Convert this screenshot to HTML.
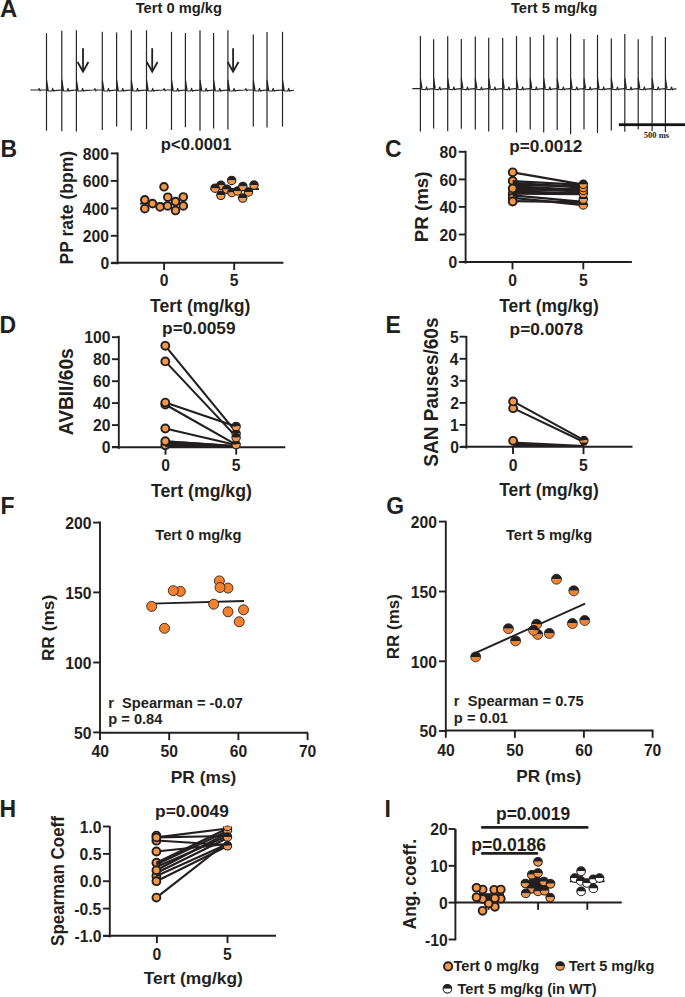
<!DOCTYPE html>
<html><head><meta charset="utf-8"><style>
html,body{margin:0;padding:0;background:#fff;}
body{width:685px;height:997px;overflow:hidden;}
svg{display:block;font-family:"Liberation Sans", sans-serif;}
</style></head><body>
<svg width="685" height="997" viewBox="0 0 685 997">
<rect width="685" height="997" fill="#fff"/>
<path d="M30.3,90.0 L38.2,90.0 L39.1,88.6 L39.9,90.9 L40.8,90.0 L46.5,90.0 L48.5,90.9 L51.8,91.0 L52.7,88.4 L53.5,91.2 L54.5,90.6 L57.0,90.3 L61.8,90.0 L63.8,90.9 L67.1,91.0 L68.0,88.4 L68.8,91.2 L69.8,90.6 L72.3,90.3 L76.4,90.0 L78.4,90.9 L81.7,91.0 L82.60000000000001,88.4 L83.4,91.2 L84.4,90.6 L86.9,90.3 L94.0,90.0 L94.89999999999999,88.6 L95.7,90.9 L96.6,90.0 L102.3,90.0 L104.3,90.9 L107.6,91.0 L108.5,88.4 L109.3,91.2 L110.3,90.6 L112.8,90.3 L116.6,90.0 L118.6,90.9 L121.89999999999999,91.0 L122.8,88.4 L123.6,91.2 L124.6,90.6 L127.1,90.3 L131.3,90.0 L133.3,90.9 L136.60000000000002,91.0 L137.5,88.4 L138.3,91.2 L139.3,90.6 L141.8,90.3 L146.5,90.0 L148.5,90.9 L151.8,91.0 L152.7,88.4 L153.5,91.2 L154.5,90.6 L157.0,90.3 L163.2,90.0 L164.1,88.6 L164.9,90.9 L165.8,90.0 L171.5,90.0 L173.5,90.9 L176.8,91.0 L177.7,88.4 L178.5,91.2 L179.5,90.6 L182.0,90.3 L185.4,90.0 L187.4,90.9 L190.70000000000002,91.0 L191.6,88.4 L192.4,91.2 L193.4,90.6 L195.9,90.3 L200,90.0 L202.0,90.9 L205.3,91.0 L206.2,88.4 L207.0,91.2 L208.0,90.6 L210.5,90.3 L213.6,90.0 L215.6,90.9 L218.9,91.0 L219.79999999999998,88.4 L220.6,91.2 L221.6,90.6 L224.1,90.3 L227.9,90.0 L229.9,90.9 L233.20000000000002,91.0 L234.1,88.4 L234.9,91.2 L235.9,90.6 L238.4,90.3 L245.0,90.0 L245.9,88.6 L246.70000000000002,90.9 L247.60000000000002,90.0 L253.3,90.0 L255.3,90.9 L258.6,91.0 L259.5,88.4 L260.3,91.2 L261.3,90.6 L263.8,90.3 L267,90.0 L269.0,90.9 L272.3,91.0 L273.2,88.4 L274.0,91.2 L275.0,90.6 L277.5,90.3 L282.5,90.0 L284.5,90.9 L287.8,91.0 L288.7,88.4 L289.5,91.2 L290.5,90.6 L293.0,90.3 L293.9,90.0" fill="none" stroke="#262626" stroke-width="1.2" stroke-linejoin="round"/>
<line x1="46.5" y1="33.2" x2="46.5" y2="130.7" stroke="#262626" stroke-width="1.2"/>
<path d="M46.1,79.7 L47.1,79.7 L48.7,90.0 L46.1,90.0 Z" fill="#262626"/>
<line x1="61.8" y1="30.8" x2="61.8" y2="131.3" stroke="#262626" stroke-width="1.2"/>
<path d="M61.4,79.7 L62.4,79.7 L64.0,90.0 L61.4,90.0 Z" fill="#262626"/>
<line x1="76.4" y1="30.3" x2="76.4" y2="131.5" stroke="#262626" stroke-width="1.2"/>
<path d="M76.0,79.7 L77.0,79.7 L78.60000000000001,90.0 L76.0,90.0 Z" fill="#262626"/>
<line x1="102.3" y1="31.7" x2="102.3" y2="130" stroke="#262626" stroke-width="1.2"/>
<path d="M101.89999999999999,79.7 L102.89999999999999,79.7 L104.5,90.0 L101.89999999999999,90.0 Z" fill="#262626"/>
<line x1="116.6" y1="32.6" x2="116.6" y2="126.6" stroke="#262626" stroke-width="1.2"/>
<path d="M116.19999999999999,79.7 L117.19999999999999,79.7 L118.8,90.0 L116.19999999999999,90.0 Z" fill="#262626"/>
<line x1="131.3" y1="30.3" x2="131.3" y2="130.7" stroke="#262626" stroke-width="1.2"/>
<path d="M130.9,79.7 L131.9,79.7 L133.5,90.0 L130.9,90.0 Z" fill="#262626"/>
<line x1="146.5" y1="30.3" x2="146.5" y2="129" stroke="#262626" stroke-width="1.2"/>
<path d="M146.1,79.7 L147.1,79.7 L148.7,90.0 L146.1,90.0 Z" fill="#262626"/>
<line x1="171.5" y1="31.8" x2="171.5" y2="130" stroke="#262626" stroke-width="1.2"/>
<path d="M171.1,79.7 L172.1,79.7 L173.7,90.0 L171.1,90.0 Z" fill="#262626"/>
<line x1="185.4" y1="32.9" x2="185.4" y2="127.2" stroke="#262626" stroke-width="1.2"/>
<path d="M185.0,79.7 L186.0,79.7 L187.6,90.0 L185.0,90.0 Z" fill="#262626"/>
<line x1="200" y1="30.3" x2="200" y2="130.7" stroke="#262626" stroke-width="1.2"/>
<path d="M199.6,79.7 L200.6,79.7 L202.2,90.0 L199.6,90.0 Z" fill="#262626"/>
<line x1="213.6" y1="32.9" x2="213.6" y2="128.4" stroke="#262626" stroke-width="1.2"/>
<path d="M213.2,79.7 L214.2,79.7 L215.79999999999998,90.0 L213.2,90.0 Z" fill="#262626"/>
<line x1="227.9" y1="30.3" x2="227.9" y2="129.6" stroke="#262626" stroke-width="1.2"/>
<path d="M227.5,79.7 L228.5,79.7 L230.1,90.0 L227.5,90.0 Z" fill="#262626"/>
<line x1="253.3" y1="34.6" x2="253.3" y2="126.6" stroke="#262626" stroke-width="1.2"/>
<path d="M252.9,79.7 L253.9,79.7 L255.5,90.0 L252.9,90.0 Z" fill="#262626"/>
<line x1="267" y1="32" x2="267" y2="127.6" stroke="#262626" stroke-width="1.2"/>
<path d="M266.6,79.7 L267.6,79.7 L269.2,90.0 L266.6,90.0 Z" fill="#262626"/>
<line x1="282.5" y1="31.8" x2="282.5" y2="126.6" stroke="#262626" stroke-width="1.2"/>
<path d="M282.1,79.7 L283.1,79.7 L284.7,90.0 L282.1,90.0 Z" fill="#262626"/>
<line x1="83" y1="48.2" x2="83" y2="70.8" stroke="#231f20" stroke-width="1.8"/>
<polyline points="77.6,62.0 83,71.6 88.4,62.0" fill="none" stroke="#231f20" stroke-width="1.8"/>
<line x1="152.2" y1="48.2" x2="152.2" y2="70.8" stroke="#231f20" stroke-width="1.8"/>
<polyline points="146.79999999999998,62.0 152.2,71.6 157.6,62.0" fill="none" stroke="#231f20" stroke-width="1.8"/>
<line x1="233.1" y1="48.2" x2="233.1" y2="70.8" stroke="#231f20" stroke-width="1.8"/>
<polyline points="227.7,62.0 233.1,71.6 238.5,62.0" fill="none" stroke="#231f20" stroke-width="1.8"/>
<path d="M412.3,88.6 L420.4,88.6 L422.4,89.5 L425.7,89.6 L426.59999999999997,87.0 L427.4,89.8 L428.4,89.19999999999999 L430.9,88.89999999999999 L433.6,88.6 L435.6,89.5 L438.90000000000003,89.6 L439.8,87.0 L440.6,89.8 L441.6,89.19999999999999 L444.1,88.89999999999999 L447.7,88.6 L449.7,89.5 L453.0,89.6 L453.9,87.0 L454.7,89.8 L455.7,89.19999999999999 L458.2,88.89999999999999 L461.3,88.6 L463.3,89.5 L466.6,89.6 L467.5,87.0 L468.3,89.8 L469.3,89.19999999999999 L471.8,88.89999999999999 L475.3,88.6 L477.3,89.5 L480.6,89.6 L481.5,87.0 L482.3,89.8 L483.3,89.19999999999999 L485.8,88.89999999999999 L488.7,88.6 L490.7,89.5 L494.0,89.6 L494.9,87.0 L495.7,89.8 L496.7,89.19999999999999 L499.2,88.89999999999999 L502.7,88.6 L504.7,89.5 L508.0,89.6 L508.9,87.0 L509.7,89.8 L510.7,89.19999999999999 L513.2,88.89999999999999 L516.5,88.6 L518.5,89.5 L521.8,89.6 L522.7,87.0 L523.5,89.8 L524.5,89.19999999999999 L527.0,88.89999999999999 L530.2,88.6 L532.2,89.5 L535.5,89.6 L536.4000000000001,87.0 L537.2,89.8 L538.2,89.19999999999999 L540.7,88.89999999999999 L543.7,88.6 L545.7,89.5 L549.0,89.6 L549.9000000000001,87.0 L550.7,89.8 L551.7,89.19999999999999 L554.2,88.89999999999999 L557.2,88.6 L559.2,89.5 L562.5,89.6 L563.4000000000001,87.0 L564.2,89.8 L565.2,89.19999999999999 L567.7,88.89999999999999 L570.6,88.6 L572.6,89.5 L575.9,89.6 L576.8000000000001,87.0 L577.6,89.8 L578.6,89.19999999999999 L581.1,88.89999999999999 L584,88.6 L586.0,89.5 L589.3,89.6 L590.2,87.0 L591.0,89.8 L592.0,89.19999999999999 L594.5,88.89999999999999 L597.5,88.6 L599.5,89.5 L602.8,89.6 L603.7,87.0 L604.5,89.8 L605.5,89.19999999999999 L608.0,88.89999999999999 L611.3,88.6 L613.3,89.5 L616.5999999999999,89.6 L617.5,87.0 L618.3,89.8 L619.3,89.19999999999999 L621.8,88.89999999999999 L624.8,88.6 L626.8,89.5 L630.0999999999999,89.6 L631.0,87.0 L631.8,89.8 L632.8,89.19999999999999 L635.3,88.89999999999999 L638.2,88.6 L640.2,89.5 L643.5,89.6 L644.4000000000001,87.0 L645.2,89.8 L646.2,89.19999999999999 L648.7,88.89999999999999 L652.1,88.6 L654.1,89.5 L657.4,89.6 L658.3000000000001,87.0 L659.1,89.8 L660.1,89.19999999999999 L662.6,88.89999999999999 L665.4,88.6 L667.4,89.5 L670.6999999999999,89.6 L671.6,87.0 L672.4,89.8 L673.4,89.19999999999999 L675.9,88.89999999999999 L675.7,88.6" fill="none" stroke="#262626" stroke-width="1.2" stroke-linejoin="round"/>
<line x1="420.4" y1="36.1" x2="420.4" y2="131.5" stroke="#262626" stroke-width="1.2"/>
<path d="M420.0,78.3 L421.0,78.3 L422.59999999999997,88.6 L420.0,88.6 Z" fill="#262626"/>
<line x1="433.6" y1="39.3" x2="433.6" y2="128.4" stroke="#262626" stroke-width="1.2"/>
<path d="M433.20000000000005,78.3 L434.20000000000005,78.3 L435.8,88.6 L433.20000000000005,88.6 Z" fill="#262626"/>
<line x1="447.7" y1="36.3" x2="447.7" y2="131.3" stroke="#262626" stroke-width="1.2"/>
<path d="M447.3,78.3 L448.3,78.3 L449.9,88.6 L447.3,88.6 Z" fill="#262626"/>
<line x1="461.3" y1="39" x2="461.3" y2="128.7" stroke="#262626" stroke-width="1.2"/>
<path d="M460.90000000000003,78.3 L461.90000000000003,78.3 L463.5,88.6 L460.90000000000003,88.6 Z" fill="#262626"/>
<line x1="475.3" y1="36.4" x2="475.3" y2="129.6" stroke="#262626" stroke-width="1.2"/>
<path d="M474.90000000000003,78.3 L475.90000000000003,78.3 L477.5,88.6 L474.90000000000003,88.6 Z" fill="#262626"/>
<line x1="488.7" y1="37.8" x2="488.7" y2="131.5" stroke="#262626" stroke-width="1.2"/>
<path d="M488.3,78.3 L489.3,78.3 L490.9,88.6 L488.3,88.6 Z" fill="#262626"/>
<line x1="502.7" y1="38" x2="502.7" y2="129.6" stroke="#262626" stroke-width="1.2"/>
<path d="M502.3,78.3 L503.3,78.3 L504.9,88.6 L502.3,88.6 Z" fill="#262626"/>
<line x1="516.5" y1="36.1" x2="516.5" y2="132.5" stroke="#262626" stroke-width="1.2"/>
<path d="M516.1,78.3 L517.1,78.3 L518.7,88.6 L516.1,88.6 Z" fill="#262626"/>
<line x1="530.2" y1="37" x2="530.2" y2="129.6" stroke="#262626" stroke-width="1.2"/>
<path d="M529.8000000000001,78.3 L530.8000000000001,78.3 L532.4000000000001,88.6 L529.8000000000001,88.6 Z" fill="#262626"/>
<line x1="543.7" y1="35" x2="543.7" y2="132.5" stroke="#262626" stroke-width="1.2"/>
<path d="M543.3000000000001,78.3 L544.3000000000001,78.3 L545.9000000000001,88.6 L543.3000000000001,88.6 Z" fill="#262626"/>
<line x1="557.2" y1="37.3" x2="557.2" y2="130.1" stroke="#262626" stroke-width="1.2"/>
<path d="M556.8000000000001,78.3 L557.8000000000001,78.3 L559.4000000000001,88.6 L556.8000000000001,88.6 Z" fill="#262626"/>
<line x1="570.6" y1="33.8" x2="570.6" y2="134.2" stroke="#262626" stroke-width="1.2"/>
<path d="M570.2,78.3 L571.2,78.3 L572.8000000000001,88.6 L570.2,88.6 Z" fill="#262626"/>
<line x1="584" y1="39" x2="584" y2="129.6" stroke="#262626" stroke-width="1.2"/>
<path d="M583.6,78.3 L584.6,78.3 L586.2,88.6 L583.6,88.6 Z" fill="#262626"/>
<line x1="597.5" y1="34.9" x2="597.5" y2="133" stroke="#262626" stroke-width="1.2"/>
<path d="M597.1,78.3 L598.1,78.3 L599.7,88.6 L597.1,88.6 Z" fill="#262626"/>
<line x1="611.3" y1="38.4" x2="611.3" y2="130.5" stroke="#262626" stroke-width="1.2"/>
<path d="M610.9,78.3 L611.9,78.3 L613.5,88.6 L610.9,88.6 Z" fill="#262626"/>
<line x1="624.8" y1="33.9" x2="624.8" y2="131.7" stroke="#262626" stroke-width="1.2"/>
<path d="M624.4,78.3 L625.4,78.3 L627.0,88.6 L624.4,88.6 Z" fill="#262626"/>
<line x1="638.2" y1="39.3" x2="638.2" y2="129.2" stroke="#262626" stroke-width="1.2"/>
<path d="M637.8000000000001,78.3 L638.8000000000001,78.3 L640.4000000000001,88.6 L637.8000000000001,88.6 Z" fill="#262626"/>
<line x1="652.1" y1="35.9" x2="652.1" y2="131.1" stroke="#262626" stroke-width="1.2"/>
<path d="M651.7,78.3 L652.7,78.3 L654.3000000000001,88.6 L651.7,88.6 Z" fill="#262626"/>
<line x1="665.4" y1="37" x2="665.4" y2="132.0" stroke="#262626" stroke-width="1.2"/>
<path d="M665.0,78.3 L666.0,78.3 L667.6,88.6 L665.0,88.6 Z" fill="#262626"/>
<rect x="618.9" y="123.3" width="66.1" height="2.8" fill="#141414"/>
<line x1="117.6" y1="152.4" x2="117.6" y2="264.3" stroke="#231f20" stroke-width="1.9" stroke-linecap="butt"/>
<line x1="110.8" y1="153.4" x2="117.6" y2="153.4" stroke="#231f20" stroke-width="1.9" stroke-linecap="butt"/>
<line x1="110.8" y1="180.9" x2="117.6" y2="180.9" stroke="#231f20" stroke-width="1.9" stroke-linecap="butt"/>
<line x1="110.8" y1="208.4" x2="117.6" y2="208.4" stroke="#231f20" stroke-width="1.9" stroke-linecap="butt"/>
<line x1="110.8" y1="235.8" x2="117.6" y2="235.8" stroke="#231f20" stroke-width="1.9" stroke-linecap="butt"/>
<line x1="110.8" y1="263.2" x2="117.6" y2="263.2" stroke="#231f20" stroke-width="1.9" stroke-linecap="butt"/>
<line x1="111.4" y1="262.7" x2="283.4" y2="262.7" stroke="#231f20" stroke-width="1.9" stroke-linecap="butt"/>
<line x1="164.1" y1="262.7" x2="164.1" y2="270.0" stroke="#231f20" stroke-width="1.9" stroke-linecap="butt"/>
<line x1="234.2" y1="262.7" x2="234.2" y2="270.0" stroke="#231f20" stroke-width="1.9" stroke-linecap="butt"/>
<line x1="140" y1="203.6" x2="187" y2="203.6" stroke="#231f20" stroke-width="1.8" stroke-linecap="butt"/>
<circle cx="164.0" cy="186.8" r="3.85" fill="#f49848" stroke="#231f20" stroke-width="1.9"/>
<circle cx="144.8" cy="199.8" r="3.85" fill="#f49848" stroke="#231f20" stroke-width="1.9"/>
<circle cx="144.8" cy="208.7" r="3.85" fill="#f49848" stroke="#231f20" stroke-width="1.9"/>
<circle cx="152.5" cy="203.6" r="3.85" fill="#f49848" stroke="#231f20" stroke-width="1.9"/>
<circle cx="160.1" cy="206.9" r="3.85" fill="#f49848" stroke="#231f20" stroke-width="1.9"/>
<circle cx="167.8" cy="197.2" r="3.85" fill="#f49848" stroke="#231f20" stroke-width="1.9"/>
<circle cx="167.6" cy="205.9" r="3.85" fill="#f49848" stroke="#231f20" stroke-width="1.9"/>
<circle cx="175.5" cy="201.6" r="3.85" fill="#f49848" stroke="#231f20" stroke-width="1.9"/>
<circle cx="175.5" cy="210.5" r="3.85" fill="#f49848" stroke="#231f20" stroke-width="1.9"/>
<circle cx="183.3" cy="197.0" r="3.85" fill="#f49848" stroke="#231f20" stroke-width="1.9"/>
<circle cx="183.3" cy="205.9" r="3.85" fill="#f49848" stroke="#231f20" stroke-width="1.9"/>
<line x1="210.2" y1="189.2" x2="259" y2="189.2" stroke="#231f20" stroke-width="1.8" stroke-linecap="butt"/>
<path d="M227.5,180.4 A4.2,4.2 0 0 1 235.89999999999998,180.4 Z" fill="#231f20"/>
<path d="M227.5,180.4 A4.2,4.2 0 0 0 235.89999999999998,180.4 Z" fill="#f49848"/>
<circle cx="231.7" cy="180.4" r="4.2" fill="none" stroke="#231f20" stroke-width="1.1"/>
<path d="M216.70000000000002,185.3 A4.2,4.2 0 0 1 225.1,185.3 Z" fill="#231f20"/>
<path d="M216.70000000000002,185.3 A4.2,4.2 0 0 0 225.1,185.3 Z" fill="#f49848"/>
<circle cx="220.9" cy="185.3" r="4.2" fill="none" stroke="#231f20" stroke-width="1.1"/>
<path d="M210.9,188.2 A4.2,4.2 0 0 1 219.29999999999998,188.2 Z" fill="#231f20"/>
<path d="M210.9,188.2 A4.2,4.2 0 0 0 219.29999999999998,188.2 Z" fill="#f49848"/>
<circle cx="215.1" cy="188.2" r="4.2" fill="none" stroke="#231f20" stroke-width="1.1"/>
<path d="M222.60000000000002,189.2 A4.2,4.2 0 0 1 231.0,189.2 Z" fill="#231f20"/>
<path d="M222.60000000000002,189.2 A4.2,4.2 0 0 0 231.0,189.2 Z" fill="#f49848"/>
<circle cx="226.8" cy="189.2" r="4.2" fill="none" stroke="#231f20" stroke-width="1.1"/>
<path d="M216.70000000000002,195.3 A4.2,4.2 0 0 1 225.1,195.3 Z" fill="#231f20"/>
<path d="M216.70000000000002,195.3 A4.2,4.2 0 0 0 225.1,195.3 Z" fill="#f49848"/>
<circle cx="220.9" cy="195.3" r="4.2" fill="none" stroke="#231f20" stroke-width="1.1"/>
<path d="M227.70000000000002,192.5 A4.2,4.2 0 0 1 236.1,192.5 Z" fill="#231f20"/>
<path d="M227.70000000000002,192.5 A4.2,4.2 0 0 0 236.1,192.5 Z" fill="#f49848"/>
<circle cx="231.9" cy="192.5" r="4.2" fill="none" stroke="#231f20" stroke-width="1.1"/>
<path d="M233.4,191.0 A4.2,4.2 0 0 1 241.79999999999998,191.0 Z" fill="#231f20"/>
<path d="M233.4,191.0 A4.2,4.2 0 0 0 241.79999999999998,191.0 Z" fill="#f49848"/>
<circle cx="237.6" cy="191.0" r="4.2" fill="none" stroke="#231f20" stroke-width="1.1"/>
<path d="M238.70000000000002,186.4 A4.2,4.2 0 0 1 247.1,186.4 Z" fill="#231f20"/>
<path d="M238.70000000000002,186.4 A4.2,4.2 0 0 0 247.1,186.4 Z" fill="#f49848"/>
<circle cx="242.9" cy="186.4" r="4.2" fill="none" stroke="#231f20" stroke-width="1.1"/>
<path d="M249.8,185.1 A4.2,4.2 0 0 1 258.2,185.1 Z" fill="#231f20"/>
<path d="M249.8,185.1 A4.2,4.2 0 0 0 258.2,185.1 Z" fill="#f49848"/>
<circle cx="254.0" cy="185.1" r="4.2" fill="none" stroke="#231f20" stroke-width="1.1"/>
<path d="M244.3,192.0 A4.2,4.2 0 0 1 252.7,192.0 Z" fill="#231f20"/>
<path d="M244.3,192.0 A4.2,4.2 0 0 0 252.7,192.0 Z" fill="#f49848"/>
<circle cx="248.5" cy="192.0" r="4.2" fill="none" stroke="#231f20" stroke-width="1.1"/>
<path d="M238.5,198.1 A4.2,4.2 0 0 1 246.89999999999998,198.1 Z" fill="#231f20"/>
<path d="M238.5,198.1 A4.2,4.2 0 0 0 246.89999999999998,198.1 Z" fill="#f49848"/>
<circle cx="242.7" cy="198.1" r="4.2" fill="none" stroke="#231f20" stroke-width="1.1"/>
<line x1="465.6" y1="150.8" x2="465.6" y2="263.6" stroke="#231f20" stroke-width="1.9" stroke-linecap="butt"/>
<line x1="458.8" y1="151.8" x2="465.6" y2="151.8" stroke="#231f20" stroke-width="1.9" stroke-linecap="butt"/>
<line x1="458.8" y1="179.4" x2="465.6" y2="179.4" stroke="#231f20" stroke-width="1.9" stroke-linecap="butt"/>
<line x1="458.8" y1="206.9" x2="465.6" y2="206.9" stroke="#231f20" stroke-width="1.9" stroke-linecap="butt"/>
<line x1="458.8" y1="234.5" x2="465.6" y2="234.5" stroke="#231f20" stroke-width="1.9" stroke-linecap="butt"/>
<line x1="458.8" y1="262.0" x2="465.6" y2="262.0" stroke="#231f20" stroke-width="1.9" stroke-linecap="butt"/>
<line x1="461.8" y1="262.0" x2="631.9" y2="262.0" stroke="#231f20" stroke-width="1.9" stroke-linecap="butt"/>
<line x1="512.5" y1="262.0" x2="512.5" y2="269.3" stroke="#231f20" stroke-width="1.9" stroke-linecap="butt"/>
<line x1="583.3" y1="262.0" x2="583.3" y2="269.3" stroke="#231f20" stroke-width="1.9" stroke-linecap="butt"/>
<circle cx="512.7" cy="181.0" r="3.95" fill="#f49848" stroke="#231f20" stroke-width="1.9"/>
<circle cx="512.7" cy="193.8" r="3.95" fill="#f49848" stroke="#231f20" stroke-width="1.9"/>
<circle cx="512.7" cy="197.8" r="3.95" fill="#f49848" stroke="#231f20" stroke-width="1.9"/>
<line x1="512.7" y1="172.3" x2="583.3" y2="184.6" stroke="#231f20" stroke-width="2.3" stroke-linecap="butt"/>
<line x1="512.7" y1="181.2" x2="583.3" y2="184.8" stroke="#231f20" stroke-width="2.3" stroke-linecap="butt"/>
<line x1="512.7" y1="183.0" x2="583.3" y2="187.5" stroke="#231f20" stroke-width="2.3" stroke-linecap="butt"/>
<line x1="512.7" y1="185.0" x2="583.3" y2="186.2" stroke="#231f20" stroke-width="2.3" stroke-linecap="butt"/>
<line x1="512.7" y1="186.5" x2="583.3" y2="190.0" stroke="#231f20" stroke-width="2.3" stroke-linecap="butt"/>
<line x1="512.7" y1="188.4" x2="583.3" y2="191.5" stroke="#231f20" stroke-width="2.3" stroke-linecap="butt"/>
<line x1="512.7" y1="190.0" x2="583.3" y2="189.2" stroke="#231f20" stroke-width="2.3" stroke-linecap="butt"/>
<line x1="512.7" y1="191.5" x2="583.3" y2="193.5" stroke="#231f20" stroke-width="2.3" stroke-linecap="butt"/>
<line x1="512.7" y1="193.5" x2="583.3" y2="194.2" stroke="#231f20" stroke-width="2.3" stroke-linecap="butt"/>
<line x1="512.7" y1="195.3" x2="583.3" y2="201.8" stroke="#231f20" stroke-width="2.3" stroke-linecap="butt"/>
<line x1="512.7" y1="201.2" x2="583.3" y2="202.2" stroke="#231f20" stroke-width="2.3" stroke-linecap="butt"/>
<line x1="512.7" y1="197.8" x2="583.3" y2="205.0" stroke="#231f20" stroke-width="2.3" stroke-linecap="butt"/>
<circle cx="512.7" cy="172.3" r="3.95" fill="#f49848" stroke="#231f20" stroke-width="1.9"/>
<circle cx="512.7" cy="188.4" r="3.95" fill="#f49848" stroke="#231f20" stroke-width="1.9"/>
<circle cx="512.7" cy="201.5" r="3.95" fill="#f49848" stroke="#231f20" stroke-width="1.9"/>
<path d="M579.0999999999999,205.0 A4.2,4.2 0 0 1 587.5,205.0 Z" fill="#231f20"/>
<path d="M579.0999999999999,205.0 A4.2,4.2 0 0 0 587.5,205.0 Z" fill="#f49848"/>
<circle cx="583.3" cy="205.0" r="4.2" fill="none" stroke="#231f20" stroke-width="1.1"/>
<path d="M579.0999999999999,199.2 A4.2,4.2 0 0 1 587.5,199.2 Z" fill="#231f20"/>
<path d="M579.0999999999999,199.2 A4.2,4.2 0 0 0 587.5,199.2 Z" fill="#f49848"/>
<circle cx="583.3" cy="199.2" r="4.2" fill="none" stroke="#231f20" stroke-width="1.1"/>
<path d="M579.0999999999999,193.4 A4.2,4.2 0 0 1 587.5,193.4 Z" fill="#231f20"/>
<path d="M579.0999999999999,193.4 A4.2,4.2 0 0 0 587.5,193.4 Z" fill="#f49848"/>
<circle cx="583.3" cy="193.4" r="4.2" fill="none" stroke="#231f20" stroke-width="1.1"/>
<path d="M579.0999999999999,190.3 A4.2,4.2 0 0 1 587.5,190.3 Z" fill="#231f20"/>
<path d="M579.0999999999999,190.3 A4.2,4.2 0 0 0 587.5,190.3 Z" fill="#f49848"/>
<circle cx="583.3" cy="190.3" r="4.2" fill="none" stroke="#231f20" stroke-width="1.1"/>
<path d="M579.0999999999999,187.6 A4.2,4.2 0 0 1 587.5,187.6 Z" fill="#231f20"/>
<path d="M579.0999999999999,187.6 A4.2,4.2 0 0 0 587.5,187.6 Z" fill="#f49848"/>
<circle cx="583.3" cy="187.6" r="4.2" fill="none" stroke="#231f20" stroke-width="1.1"/>
<path d="M579.0999999999999,184.3 A4.2,4.2 0 0 1 587.5,184.3 Z" fill="#231f20"/>
<path d="M579.0999999999999,184.3 A4.2,4.2 0 0 0 587.5,184.3 Z" fill="#f49848"/>
<circle cx="583.3" cy="184.3" r="4.2" fill="none" stroke="#231f20" stroke-width="1.1"/>
<line x1="118.8" y1="335.8" x2="118.8" y2="448.90000000000003" stroke="#231f20" stroke-width="1.9" stroke-linecap="butt"/>
<line x1="112.0" y1="337.2" x2="118.8" y2="337.2" stroke="#231f20" stroke-width="1.9" stroke-linecap="butt"/>
<line x1="112.0" y1="359.2" x2="118.8" y2="359.2" stroke="#231f20" stroke-width="1.9" stroke-linecap="butt"/>
<line x1="112.0" y1="381.2" x2="118.8" y2="381.2" stroke="#231f20" stroke-width="1.9" stroke-linecap="butt"/>
<line x1="112.0" y1="403.1" x2="118.8" y2="403.1" stroke="#231f20" stroke-width="1.9" stroke-linecap="butt"/>
<line x1="112.0" y1="425.1" x2="118.8" y2="425.1" stroke="#231f20" stroke-width="1.9" stroke-linecap="butt"/>
<line x1="112.0" y1="447.0" x2="118.8" y2="447.0" stroke="#231f20" stroke-width="1.9" stroke-linecap="butt"/>
<line x1="112.0" y1="447.3" x2="285.3" y2="447.3" stroke="#231f20" stroke-width="1.9" stroke-linecap="butt"/>
<line x1="165.5" y1="447.3" x2="165.5" y2="454.6" stroke="#231f20" stroke-width="1.9" stroke-linecap="butt"/>
<line x1="236.2" y1="447.3" x2="236.2" y2="454.6" stroke="#231f20" stroke-width="1.9" stroke-linecap="butt"/>
<circle cx="165.3" cy="445.3" r="3.95" fill="#f49848" stroke="#231f20" stroke-width="1.9"/>
<circle cx="165.3" cy="404.5" r="3.95" fill="#f49848" stroke="#231f20" stroke-width="1.9"/>
<path d="M165.3,440.2 L236.1,445.2 L236.1,447.3 L165.3,447.3 Z" fill="#231f20"/>
<line x1="165.3" y1="345.8" x2="236.1" y2="432.2" stroke="#231f20" stroke-width="2.1" stroke-linecap="butt"/>
<line x1="165.3" y1="361.4" x2="236.1" y2="436.6" stroke="#231f20" stroke-width="2.1" stroke-linecap="butt"/>
<line x1="165.3" y1="402.6" x2="236.1" y2="426.4" stroke="#231f20" stroke-width="2.1" stroke-linecap="butt"/>
<line x1="165.3" y1="404.5" x2="236.1" y2="444.6" stroke="#231f20" stroke-width="2.1" stroke-linecap="butt"/>
<line x1="165.3" y1="428.5" x2="236.1" y2="445.0" stroke="#231f20" stroke-width="2.1" stroke-linecap="butt"/>
<line x1="165.3" y1="441.2" x2="236.1" y2="446" stroke="#231f20" stroke-width="2.1" stroke-linecap="butt"/>
<circle cx="165.3" cy="441.2" r="3.95" fill="#f49848" stroke="#231f20" stroke-width="1.9"/>
<circle cx="165.3" cy="428.5" r="3.95" fill="#f49848" stroke="#231f20" stroke-width="1.9"/>
<circle cx="165.3" cy="402.6" r="3.95" fill="#f49848" stroke="#231f20" stroke-width="1.9"/>
<circle cx="165.3" cy="361.4" r="3.95" fill="#f49848" stroke="#231f20" stroke-width="1.9"/>
<circle cx="165.3" cy="345.8" r="3.95" fill="#f49848" stroke="#231f20" stroke-width="1.9"/>
<path d="M231.9,444.6 A4.2,4.2 0 0 1 240.29999999999998,444.6 Z" fill="#231f20"/>
<path d="M231.9,444.6 A4.2,4.2 0 0 0 240.29999999999998,444.6 Z" fill="#f49848"/>
<circle cx="236.1" cy="444.6" r="4.2" fill="none" stroke="#231f20" stroke-width="1.1"/>
<path d="M231.9,433.5 A4.2,4.2 0 0 1 240.29999999999998,433.5 Z" fill="#231f20"/>
<path d="M231.9,433.5 A4.2,4.2 0 0 0 240.29999999999998,433.5 Z" fill="#f49848"/>
<circle cx="236.1" cy="433.5" r="4.2" fill="none" stroke="#231f20" stroke-width="1.1"/>
<path d="M231.9,437.5 A4.2,4.2 0 0 1 240.29999999999998,437.5 Z" fill="#231f20"/>
<path d="M231.9,437.5 A4.2,4.2 0 0 0 240.29999999999998,437.5 Z" fill="#f49848"/>
<circle cx="236.1" cy="437.5" r="4.2" fill="none" stroke="#231f20" stroke-width="1.1"/>
<path d="M231.9,426.4 A4.2,4.2 0 0 1 240.29999999999998,426.4 Z" fill="#231f20"/>
<path d="M231.9,426.4 A4.2,4.2 0 0 0 240.29999999999998,426.4 Z" fill="#f49848"/>
<circle cx="236.1" cy="426.4" r="4.2" fill="none" stroke="#231f20" stroke-width="1.1"/>
<line x1="466.4" y1="336.0" x2="466.4" y2="448.6" stroke="#231f20" stroke-width="1.9" stroke-linecap="butt"/>
<line x1="459.59999999999997" y1="336.7" x2="466.4" y2="336.7" stroke="#231f20" stroke-width="1.9" stroke-linecap="butt"/>
<line x1="459.59999999999997" y1="358.8" x2="466.4" y2="358.8" stroke="#231f20" stroke-width="1.9" stroke-linecap="butt"/>
<line x1="459.59999999999997" y1="380.8" x2="466.4" y2="380.8" stroke="#231f20" stroke-width="1.9" stroke-linecap="butt"/>
<line x1="459.59999999999997" y1="402.9" x2="466.4" y2="402.9" stroke="#231f20" stroke-width="1.9" stroke-linecap="butt"/>
<line x1="459.59999999999997" y1="424.9" x2="466.4" y2="424.9" stroke="#231f20" stroke-width="1.9" stroke-linecap="butt"/>
<line x1="459.59999999999997" y1="447.0" x2="466.4" y2="447.0" stroke="#231f20" stroke-width="1.9" stroke-linecap="butt"/>
<line x1="461.0" y1="446.8" x2="632.5" y2="446.8" stroke="#231f20" stroke-width="1.9" stroke-linecap="butt"/>
<line x1="513.0" y1="446.8" x2="513.0" y2="454.1" stroke="#231f20" stroke-width="1.9" stroke-linecap="butt"/>
<line x1="583.5" y1="446.8" x2="583.5" y2="454.1" stroke="#231f20" stroke-width="1.9" stroke-linecap="butt"/>
<path d="M513.1,441.5 L583.9,445.0 L583.9,447 L513.1,447 Z" fill="#231f20"/>
<line x1="513.1" y1="401.4" x2="583.9" y2="440.2" stroke="#231f20" stroke-width="2.0" stroke-linecap="butt"/>
<line x1="513.1" y1="408.2" x2="583.9" y2="442.0" stroke="#231f20" stroke-width="2.0" stroke-linecap="butt"/>
<circle cx="513.1" cy="408.2" r="3.95" fill="#f49848" stroke="#231f20" stroke-width="1.9"/>
<circle cx="513.1" cy="401.4" r="3.95" fill="#f49848" stroke="#231f20" stroke-width="1.9"/>
<circle cx="513.1" cy="440.8" r="3.95" fill="#f49848" stroke="#231f20" stroke-width="1.9"/>
<path d="M579.6999999999999,440.6 A4.2,4.2 0 0 1 588.1,440.6 Z" fill="#231f20"/>
<path d="M579.6999999999999,440.6 A4.2,4.2 0 0 0 588.1,440.6 Z" fill="#f49848"/>
<circle cx="583.9" cy="440.6" r="4.2" fill="none" stroke="#231f20" stroke-width="1.1"/>
<path d="M580.5,442.6 L587.3,442.6 L586.5,445.5 L581.3,445.5 Z" fill="#231f20"/>
<line x1="100.0" y1="521.5" x2="100.0" y2="734.4" stroke="#231f20" stroke-width="1.9" stroke-linecap="butt"/>
<line x1="93.2" y1="522.6" x2="100.0" y2="522.6" stroke="#231f20" stroke-width="1.9" stroke-linecap="butt"/>
<line x1="93.2" y1="592.4" x2="100.0" y2="592.4" stroke="#231f20" stroke-width="1.9" stroke-linecap="butt"/>
<line x1="93.2" y1="662.5" x2="100.0" y2="662.5" stroke="#231f20" stroke-width="1.9" stroke-linecap="butt"/>
<line x1="93.2" y1="732.4" x2="100.0" y2="732.4" stroke="#231f20" stroke-width="1.9" stroke-linecap="butt"/>
<line x1="100.0" y1="732.8" x2="308.0" y2="732.8" stroke="#231f20" stroke-width="1.9" stroke-linecap="butt"/>
<line x1="100.0" y1="732.8" x2="100.0" y2="740.0999999999999" stroke="#231f20" stroke-width="1.9" stroke-linecap="butt"/>
<line x1="169.2" y1="732.8" x2="169.2" y2="740.0999999999999" stroke="#231f20" stroke-width="1.9" stroke-linecap="butt"/>
<line x1="238.4" y1="732.8" x2="238.4" y2="740.0999999999999" stroke="#231f20" stroke-width="1.9" stroke-linecap="butt"/>
<line x1="307.6" y1="732.8" x2="307.6" y2="740.0999999999999" stroke="#231f20" stroke-width="1.9" stroke-linecap="butt"/>
<line x1="151.7" y1="603.6" x2="244.0" y2="601.0" stroke="#231f20" stroke-width="1.8" stroke-linecap="butt"/>
<circle cx="151.7" cy="606.4" r="5.0" fill="#f08230" stroke="#2e2118" stroke-width="0.9"/>
<circle cx="164.5" cy="628.3" r="5.0" fill="#f08230" stroke="#2e2118" stroke-width="0.9"/>
<circle cx="180.3" cy="591.4" r="5.0" fill="#f08230" stroke="#2e2118" stroke-width="0.9"/>
<circle cx="173.3" cy="590.7" r="5.0" fill="#f08230" stroke="#2e2118" stroke-width="0.9"/>
<circle cx="213.7" cy="604.2" r="5.0" fill="#f08230" stroke="#2e2118" stroke-width="0.9"/>
<circle cx="219.4" cy="580.9" r="5.0" fill="#f08230" stroke="#2e2118" stroke-width="0.9"/>
<circle cx="228.0" cy="588.1" r="5.0" fill="#f08230" stroke="#2e2118" stroke-width="0.9"/>
<circle cx="220.0" cy="587.5" r="5.0" fill="#f08230" stroke="#2e2118" stroke-width="0.9"/>
<circle cx="228.0" cy="611.8" r="5.0" fill="#f08230" stroke="#2e2118" stroke-width="0.9"/>
<circle cx="243.5" cy="609.8" r="5.0" fill="#f08230" stroke="#2e2118" stroke-width="0.9"/>
<circle cx="239.2" cy="621.8" r="5.0" fill="#f08230" stroke="#2e2118" stroke-width="0.9"/>
<line x1="445.8" y1="520.8" x2="445.8" y2="732.1" stroke="#231f20" stroke-width="1.9" stroke-linecap="butt"/>
<line x1="439.0" y1="521.6" x2="445.8" y2="521.6" stroke="#231f20" stroke-width="1.9" stroke-linecap="butt"/>
<line x1="439.0" y1="591.5" x2="445.8" y2="591.5" stroke="#231f20" stroke-width="1.9" stroke-linecap="butt"/>
<line x1="439.0" y1="661.3" x2="445.8" y2="661.3" stroke="#231f20" stroke-width="1.9" stroke-linecap="butt"/>
<line x1="439.0" y1="731.0" x2="445.8" y2="731.0" stroke="#231f20" stroke-width="1.9" stroke-linecap="butt"/>
<line x1="445.8" y1="730.5" x2="653.4" y2="730.5" stroke="#231f20" stroke-width="1.9" stroke-linecap="butt"/>
<line x1="445.8" y1="730.5" x2="445.8" y2="737.8" stroke="#231f20" stroke-width="1.9" stroke-linecap="butt"/>
<line x1="514.9" y1="730.5" x2="514.9" y2="737.8" stroke="#231f20" stroke-width="1.9" stroke-linecap="butt"/>
<line x1="583.9" y1="730.5" x2="583.9" y2="737.8" stroke="#231f20" stroke-width="1.9" stroke-linecap="butt"/>
<line x1="652.6" y1="730.5" x2="652.6" y2="737.8" stroke="#231f20" stroke-width="1.9" stroke-linecap="butt"/>
<line x1="475.7" y1="652.8" x2="585.1" y2="603.7" stroke="#231f20" stroke-width="1.9" stroke-linecap="butt"/>
<path d="M470.7,656.9 A5.0,5.0 0 0 1 480.7,656.9 Z" fill="#231f20"/>
<path d="M470.7,656.9 A5.0,5.0 0 0 0 480.7,656.9 Z" fill="#f08230"/>
<circle cx="475.7" cy="656.9" r="5.0" fill="none" stroke="#231f20" stroke-width="0.8"/>
<path d="M503.4,628.7 A5.0,5.0 0 0 1 513.4,628.7 Z" fill="#231f20"/>
<path d="M503.4,628.7 A5.0,5.0 0 0 0 513.4,628.7 Z" fill="#f08230"/>
<circle cx="508.4" cy="628.7" r="5.0" fill="none" stroke="#231f20" stroke-width="0.8"/>
<path d="M510.6,640.9 A5.0,5.0 0 0 1 520.6,640.9 Z" fill="#231f20"/>
<path d="M510.6,640.9 A5.0,5.0 0 0 0 520.6,640.9 Z" fill="#f08230"/>
<circle cx="515.6" cy="640.9" r="5.0" fill="none" stroke="#231f20" stroke-width="0.8"/>
<path d="M532.7,634.4 A5.0,5.0 0 0 1 542.7,634.4 Z" fill="#231f20"/>
<path d="M532.7,634.4 A5.0,5.0 0 0 0 542.7,634.4 Z" fill="#f08230"/>
<circle cx="537.7" cy="634.4" r="5.0" fill="none" stroke="#231f20" stroke-width="0.8"/>
<path d="M531.6,624.2 A5.0,5.0 0 0 1 541.6,624.2 Z" fill="#231f20"/>
<path d="M531.6,624.2 A5.0,5.0 0 0 0 541.6,624.2 Z" fill="#f08230"/>
<circle cx="536.6" cy="624.2" r="5.0" fill="none" stroke="#231f20" stroke-width="0.8"/>
<path d="M528.6,630.3 A5.0,5.0 0 0 1 538.6,630.3 Z" fill="#231f20"/>
<path d="M528.6,630.3 A5.0,5.0 0 0 0 538.6,630.3 Z" fill="#f08230"/>
<circle cx="533.6" cy="630.3" r="5.0" fill="none" stroke="#231f20" stroke-width="0.8"/>
<path d="M544.3,633.4 A5.0,5.0 0 0 1 554.3,633.4 Z" fill="#231f20"/>
<path d="M544.3,633.4 A5.0,5.0 0 0 0 554.3,633.4 Z" fill="#f08230"/>
<circle cx="549.3" cy="633.4" r="5.0" fill="none" stroke="#231f20" stroke-width="0.8"/>
<path d="M551.5,579.2 A5.0,5.0 0 0 1 561.5,579.2 Z" fill="#231f20"/>
<path d="M551.5,579.2 A5.0,5.0 0 0 0 561.5,579.2 Z" fill="#f08230"/>
<circle cx="556.5" cy="579.2" r="5.0" fill="none" stroke="#231f20" stroke-width="0.8"/>
<path d="M568.8,590.8 A5.0,5.0 0 0 1 578.8,590.8 Z" fill="#231f20"/>
<path d="M568.8,590.8 A5.0,5.0 0 0 0 578.8,590.8 Z" fill="#f08230"/>
<circle cx="573.8" cy="590.8" r="5.0" fill="none" stroke="#231f20" stroke-width="0.8"/>
<path d="M567.4,623.5 A5.0,5.0 0 0 1 577.4,623.5 Z" fill="#231f20"/>
<path d="M567.4,623.5 A5.0,5.0 0 0 0 577.4,623.5 Z" fill="#f08230"/>
<circle cx="572.4" cy="623.5" r="5.0" fill="none" stroke="#231f20" stroke-width="0.8"/>
<path d="M579.7,620.5 A5.0,5.0 0 0 1 589.7,620.5 Z" fill="#231f20"/>
<path d="M579.7,620.5 A5.0,5.0 0 0 0 589.7,620.5 Z" fill="#f08230"/>
<circle cx="584.7" cy="620.5" r="5.0" fill="none" stroke="#231f20" stroke-width="0.8"/>
<line x1="109.8" y1="826.0" x2="109.8" y2="937.4" stroke="#231f20" stroke-width="1.9" stroke-linecap="butt"/>
<line x1="103.0" y1="826.5" x2="109.8" y2="826.5" stroke="#231f20" stroke-width="1.9" stroke-linecap="butt"/>
<line x1="103.0" y1="853.9" x2="109.8" y2="853.9" stroke="#231f20" stroke-width="1.9" stroke-linecap="butt"/>
<line x1="103.0" y1="881.2" x2="109.8" y2="881.2" stroke="#231f20" stroke-width="1.9" stroke-linecap="butt"/>
<line x1="103.0" y1="908.6" x2="109.8" y2="908.6" stroke="#231f20" stroke-width="1.9" stroke-linecap="butt"/>
<line x1="103.0" y1="936.0" x2="109.8" y2="936.0" stroke="#231f20" stroke-width="1.9" stroke-linecap="butt"/>
<line x1="103.2" y1="935.8" x2="276.0" y2="935.8" stroke="#231f20" stroke-width="1.9" stroke-linecap="butt"/>
<line x1="156.9" y1="935.8" x2="156.9" y2="943.0999999999999" stroke="#231f20" stroke-width="1.9" stroke-linecap="butt"/>
<line x1="227.5" y1="935.8" x2="227.5" y2="943.0999999999999" stroke="#231f20" stroke-width="1.9" stroke-linecap="butt"/>
<circle cx="156.4" cy="835.6" r="3.95" fill="#f49848" stroke="#231f20" stroke-width="1.9"/>
<circle cx="156.4" cy="840.7" r="3.95" fill="#f49848" stroke="#231f20" stroke-width="1.9"/>
<circle cx="156.4" cy="862.7" r="3.95" fill="#f49848" stroke="#231f20" stroke-width="1.9"/>
<circle cx="156.4" cy="876.0" r="3.95" fill="#f49848" stroke="#231f20" stroke-width="1.9"/>
<line x1="156.4" y1="837.4" x2="227.5" y2="828.5" stroke="#231f20" stroke-width="2.2" stroke-linecap="butt"/>
<line x1="156.4" y1="837.4" x2="227.5" y2="836.0" stroke="#231f20" stroke-width="2.2" stroke-linecap="butt"/>
<line x1="156.4" y1="840.5" x2="227.5" y2="845.0" stroke="#231f20" stroke-width="2.2" stroke-linecap="butt"/>
<line x1="156.4" y1="851.5" x2="227.5" y2="844.0" stroke="#231f20" stroke-width="2.2" stroke-linecap="butt"/>
<line x1="156.4" y1="862.7" x2="227.5" y2="828.5" stroke="#231f20" stroke-width="2.2" stroke-linecap="butt"/>
<line x1="156.4" y1="864.5" x2="227.5" y2="831.0" stroke="#231f20" stroke-width="2.2" stroke-linecap="butt"/>
<line x1="156.4" y1="867.0" x2="227.5" y2="836.0" stroke="#231f20" stroke-width="2.2" stroke-linecap="butt"/>
<line x1="156.4" y1="870.3" x2="227.5" y2="833.0" stroke="#231f20" stroke-width="2.2" stroke-linecap="butt"/>
<line x1="156.4" y1="873.0" x2="227.5" y2="838.0" stroke="#231f20" stroke-width="2.2" stroke-linecap="butt"/>
<line x1="156.4" y1="876.0" x2="227.5" y2="844.0" stroke="#231f20" stroke-width="2.2" stroke-linecap="butt"/>
<line x1="156.4" y1="881.2" x2="227.5" y2="846.0" stroke="#231f20" stroke-width="2.2" stroke-linecap="butt"/>
<line x1="156.4" y1="897.6" x2="227.5" y2="842.0" stroke="#231f20" stroke-width="2.2" stroke-linecap="butt"/>
<circle cx="156.4" cy="837.4" r="3.95" fill="#f49848" stroke="#231f20" stroke-width="1.9"/>
<circle cx="156.4" cy="851.5" r="3.95" fill="#f49848" stroke="#231f20" stroke-width="1.9"/>
<circle cx="156.4" cy="870.3" r="3.95" fill="#f49848" stroke="#231f20" stroke-width="1.9"/>
<circle cx="156.4" cy="881.2" r="3.95" fill="#f49848" stroke="#231f20" stroke-width="1.9"/>
<circle cx="156.4" cy="897.6" r="3.95" fill="#f49848" stroke="#231f20" stroke-width="1.9"/>
<path d="M223.3,845.8 A4.2,4.2 0 0 1 231.7,845.8 Z" fill="#231f20"/>
<path d="M223.3,845.8 A4.2,4.2 0 0 0 231.7,845.8 Z" fill="#f49848"/>
<circle cx="227.5" cy="845.8" r="4.2" fill="none" stroke="#231f20" stroke-width="1.1"/>
<path d="M223.3,830.2 A4.2,4.2 0 0 1 231.7,830.2 Z" fill="#231f20"/>
<path d="M223.3,830.2 A4.2,4.2 0 0 0 231.7,830.2 Z" fill="#f49848"/>
<circle cx="227.5" cy="830.2" r="4.2" fill="none" stroke="#231f20" stroke-width="1.1"/>
<path d="M223.3,836.9 A4.2,4.2 0 0 1 231.7,836.9 Z" fill="#231f20"/>
<path d="M223.3,836.9 A4.2,4.2 0 0 0 231.7,836.9 Z" fill="#f49848"/>
<circle cx="227.5" cy="836.9" r="4.2" fill="none" stroke="#231f20" stroke-width="1.1"/>
<path d="M223.3,826.4 A4.2,4.2 0 0 0 231.7,826.4 Z" fill="#f49848"/>
<path d="M223.3,826.4 A4.2,4.2 0 0 0 231.7,826.4" fill="none" stroke="#231f20" stroke-width="1.1"/>
<line x1="455.4" y1="829.0" x2="455.4" y2="904.1" stroke="#231f20" stroke-width="1.9" stroke-linecap="butt"/>
<line x1="448.59999999999997" y1="829.0" x2="455.4" y2="829.0" stroke="#231f20" stroke-width="1.9" stroke-linecap="butt"/>
<line x1="448.59999999999997" y1="865.8" x2="455.4" y2="865.8" stroke="#231f20" stroke-width="1.9" stroke-linecap="butt"/>
<line x1="448.59999999999997" y1="902.6" x2="455.4" y2="902.6" stroke="#231f20" stroke-width="1.9" stroke-linecap="butt"/>
<line x1="448.59999999999997" y1="939.5" x2="455.4" y2="939.5" stroke="#231f20" stroke-width="1.9" stroke-linecap="butt"/>
<line x1="455.4" y1="829.0" x2="455.4" y2="940.4" stroke="#231f20" stroke-width="1.9" stroke-linecap="butt"/>
<line x1="455.4" y1="902.5" x2="621.8" y2="902.5" stroke="#231f20" stroke-width="1.9" stroke-linecap="butt"/>
<line x1="488.5" y1="902.5" x2="488.5" y2="909.8" stroke="#231f20" stroke-width="1.9" stroke-linecap="butt"/>
<line x1="538.1" y1="902.5" x2="538.1" y2="909.8" stroke="#231f20" stroke-width="1.9" stroke-linecap="butt"/>
<line x1="587.3" y1="902.5" x2="587.3" y2="909.8" stroke="#231f20" stroke-width="1.9" stroke-linecap="butt"/>
<line x1="482.3" y1="827.4" x2="587.2" y2="827.4" stroke="#231f20" stroke-width="2.8" stroke-linecap="round"/>
<line x1="482.3" y1="853.4" x2="536.9" y2="853.4" stroke="#231f20" stroke-width="2.8" stroke-linecap="round"/>
<line x1="474" y1="894.3" x2="504" y2="894.3" stroke="#231f20" stroke-width="2" stroke-linecap="butt"/>
<rect x="485.4" y="893.7" width="6.1" height="6.7" fill="#231f20"/>
<circle cx="482.7" cy="889.5" r="3.9" fill="#f49848" stroke="#231f20" stroke-width="1.9"/>
<circle cx="494.2" cy="889.8" r="3.9" fill="#f49848" stroke="#231f20" stroke-width="1.9"/>
<circle cx="500.8" cy="889.5" r="3.9" fill="#f49848" stroke="#231f20" stroke-width="1.9"/>
<circle cx="476.5" cy="887.8" r="3.9" fill="#f49848" stroke="#231f20" stroke-width="1.9"/>
<circle cx="482.7" cy="899" r="3.9" fill="#f49848" stroke="#231f20" stroke-width="1.9"/>
<circle cx="500.8" cy="898.7" r="3.9" fill="#f49848" stroke="#231f20" stroke-width="1.9"/>
<circle cx="476.5" cy="897.3" r="3.9" fill="#f49848" stroke="#231f20" stroke-width="1.9"/>
<circle cx="494.9" cy="898.3" r="3.9" fill="#f49848" stroke="#231f20" stroke-width="1.9"/>
<circle cx="494.9" cy="906.8" r="3.9" fill="#f49848" stroke="#231f20" stroke-width="1.9"/>
<circle cx="488.7" cy="903.6" r="3.9" fill="#f49848" stroke="#231f20" stroke-width="1.9"/>
<circle cx="482.6" cy="910.8" r="3.9" fill="#f49848" stroke="#231f20" stroke-width="1.9"/>
<line x1="521" y1="882" x2="555" y2="882" stroke="#231f20" stroke-width="1.6" stroke-linecap="butt"/>
<path d="M528.2,883.0 A4.3,4.3 0 0 1 536.8,883.0 Z" fill="#231f20"/>
<path d="M528.2,883.0 A4.3,4.3 0 0 0 536.8,883.0 Z" fill="#231f20"/>
<circle cx="532.5" cy="883.0" r="4.3" fill="none" stroke="#231f20" stroke-width="1.1"/>
<path d="M534.2,885.0 A4.3,4.3 0 0 1 542.8,885.0 Z" fill="#231f20"/>
<path d="M534.2,885.0 A4.3,4.3 0 0 0 542.8,885.0 Z" fill="#231f20"/>
<circle cx="538.5" cy="885.0" r="4.3" fill="none" stroke="#231f20" stroke-width="1.1"/>
<path d="M539.7,886.0 A4.3,4.3 0 0 1 548.3,886.0 Z" fill="#231f20"/>
<path d="M539.7,886.0 A4.3,4.3 0 0 0 548.3,886.0 Z" fill="#231f20"/>
<circle cx="544.0" cy="886.0" r="4.3" fill="none" stroke="#231f20" stroke-width="1.1"/>
<path d="M531.7,880.0 A4.3,4.3 0 0 1 540.3,880.0 Z" fill="#231f20"/>
<path d="M531.7,880.0 A4.3,4.3 0 0 0 540.3,880.0 Z" fill="#231f20"/>
<circle cx="536.0" cy="880.0" r="4.3" fill="none" stroke="#231f20" stroke-width="1.1"/>
<path d="M533.7,861.8 A4.3,4.3 0 0 1 542.3,861.8 Z" fill="#231f20"/>
<path d="M533.7,861.8 A4.3,4.3 0 0 0 542.3,861.8 Z" fill="#f49848"/>
<circle cx="538" cy="861.8" r="4.3" fill="none" stroke="#231f20" stroke-width="1.1"/>
<path d="M527.5,874.8 A4.3,4.3 0 0 1 536.0999999999999,874.8 Z" fill="#231f20"/>
<path d="M527.5,874.8 A4.3,4.3 0 0 0 536.0999999999999,874.8 Z" fill="#f49848"/>
<circle cx="531.8" cy="874.8" r="4.3" fill="none" stroke="#231f20" stroke-width="1.1"/>
<path d="M533.7,873 A4.3,4.3 0 0 1 542.3,873 Z" fill="#231f20"/>
<path d="M533.7,873 A4.3,4.3 0 0 0 542.3,873 Z" fill="#f49848"/>
<circle cx="538" cy="873" r="4.3" fill="none" stroke="#231f20" stroke-width="1.1"/>
<path d="M521.2,883.5 A4.3,4.3 0 0 1 529.8,883.5 Z" fill="#231f20"/>
<path d="M521.2,883.5 A4.3,4.3 0 0 0 529.8,883.5 Z" fill="#f49848"/>
<circle cx="525.5" cy="883.5" r="4.3" fill="none" stroke="#231f20" stroke-width="1.1"/>
<path d="M539.6,881.5 A4.3,4.3 0 0 1 548.1999999999999,881.5 Z" fill="#231f20"/>
<path d="M539.6,881.5 A4.3,4.3 0 0 0 548.1999999999999,881.5 Z" fill="#f49848"/>
<circle cx="543.9" cy="881.5" r="4.3" fill="none" stroke="#231f20" stroke-width="1.1"/>
<path d="M546.2,883.8 A4.3,4.3 0 0 1 554.8,883.8 Z" fill="#231f20"/>
<path d="M546.2,883.8 A4.3,4.3 0 0 0 554.8,883.8 Z" fill="#f49848"/>
<circle cx="550.5" cy="883.8" r="4.3" fill="none" stroke="#231f20" stroke-width="1.1"/>
<path d="M527.1,888.8 A4.3,4.3 0 0 1 535.6999999999999,888.8 Z" fill="#231f20"/>
<path d="M527.1,888.8 A4.3,4.3 0 0 0 535.6999999999999,888.8 Z" fill="#f49848"/>
<circle cx="531.4" cy="888.8" r="4.3" fill="none" stroke="#231f20" stroke-width="1.1"/>
<path d="M533.7,891.4 A4.3,4.3 0 0 1 542.3,891.4 Z" fill="#231f20"/>
<path d="M533.7,891.4 A4.3,4.3 0 0 0 542.3,891.4 Z" fill="#f49848"/>
<circle cx="538" cy="891.4" r="4.3" fill="none" stroke="#231f20" stroke-width="1.1"/>
<path d="M540.3000000000001,890.7 A4.3,4.3 0 0 1 548.9,890.7 Z" fill="#231f20"/>
<path d="M540.3000000000001,890.7 A4.3,4.3 0 0 0 548.9,890.7 Z" fill="#f49848"/>
<circle cx="544.6" cy="890.7" r="4.3" fill="none" stroke="#231f20" stroke-width="1.1"/>
<path d="M521.5,893.4 A4.3,4.3 0 0 1 530.0999999999999,893.4 Z" fill="#231f20"/>
<path d="M521.5,893.4 A4.3,4.3 0 0 0 530.0999999999999,893.4 Z" fill="#f49848"/>
<circle cx="525.8" cy="893.4" r="4.3" fill="none" stroke="#231f20" stroke-width="1.1"/>
<path d="M545.9000000000001,897.6 A4.3,4.3 0 0 1 554.5,897.6 Z" fill="#231f20"/>
<path d="M545.9000000000001,897.6 A4.3,4.3 0 0 0 554.5,897.6 Z" fill="#f49848"/>
<circle cx="550.2" cy="897.6" r="4.3" fill="none" stroke="#231f20" stroke-width="1.1"/>
<line x1="569.9" y1="881.4" x2="604.7" y2="881.4" stroke="#231f20" stroke-width="1.6" stroke-linecap="butt"/>
<path d="M576.8000000000001,871.2 A4.3,4.3 0 0 1 585.4,871.2 Z" fill="#231f20"/>
<path d="M576.8000000000001,871.2 A4.3,4.3 0 0 0 585.4,871.2 Z" fill="#ffffff"/>
<circle cx="581.1" cy="871.2" r="4.3" fill="none" stroke="#231f20" stroke-width="1.1"/>
<path d="M570.4000000000001,878.1 A4.3,4.3 0 0 1 579.0,878.1 Z" fill="#231f20"/>
<path d="M570.4000000000001,878.1 A4.3,4.3 0 0 0 579.0,878.1 Z" fill="#ffffff"/>
<circle cx="574.7" cy="878.1" r="4.3" fill="none" stroke="#231f20" stroke-width="1.1"/>
<path d="M576.5,880.9 A4.3,4.3 0 0 1 585.0999999999999,880.9 Z" fill="#231f20"/>
<path d="M576.5,880.9 A4.3,4.3 0 0 0 585.0999999999999,880.9 Z" fill="#ffffff"/>
<circle cx="580.8" cy="880.9" r="4.3" fill="none" stroke="#231f20" stroke-width="1.1"/>
<path d="M582.7,883 A4.3,4.3 0 0 1 591.3,883 Z" fill="#231f20"/>
<path d="M582.7,883 A4.3,4.3 0 0 0 591.3,883 Z" fill="#ffffff"/>
<circle cx="587" cy="883" r="4.3" fill="none" stroke="#231f20" stroke-width="1.1"/>
<path d="M589.0,879.4 A4.3,4.3 0 0 1 597.5999999999999,879.4 Z" fill="#231f20"/>
<path d="M589.0,879.4 A4.3,4.3 0 0 0 597.5999999999999,879.4 Z" fill="#ffffff"/>
<circle cx="593.3" cy="879.4" r="4.3" fill="none" stroke="#231f20" stroke-width="1.1"/>
<path d="M595.2,878.1 A4.3,4.3 0 0 1 603.8,878.1 Z" fill="#231f20"/>
<path d="M595.2,878.1 A4.3,4.3 0 0 0 603.8,878.1 Z" fill="#ffffff"/>
<circle cx="599.5" cy="878.1" r="4.3" fill="none" stroke="#231f20" stroke-width="1.1"/>
<path d="M576.8000000000001,891.4 A4.3,4.3 0 0 1 585.4,891.4 Z" fill="#231f20"/>
<path d="M576.8000000000001,891.4 A4.3,4.3 0 0 0 585.4,891.4 Z" fill="#ffffff"/>
<circle cx="581.1" cy="891.4" r="4.3" fill="none" stroke="#231f20" stroke-width="1.1"/>
<path d="M589.1,888.4 A4.3,4.3 0 0 1 597.6999999999999,888.4 Z" fill="#231f20"/>
<path d="M589.1,888.4 A4.3,4.3 0 0 0 597.6999999999999,888.4 Z" fill="#ffffff"/>
<circle cx="593.4" cy="888.4" r="4.3" fill="none" stroke="#231f20" stroke-width="1.1"/>
<circle cx="448.1" cy="966.4" r="4.1" fill="#f49848" stroke="#231f20" stroke-width="1.9"/>
<path d="M555.8000000000001,966.0 A4.3,4.3 0 0 1 564.4,966.0 Z" fill="#231f20"/>
<path d="M555.8000000000001,966.0 A4.3,4.3 0 0 0 564.4,966.0 Z" fill="#f49848"/>
<circle cx="560.1" cy="966.0" r="4.3" fill="none" stroke="#231f20" stroke-width="1.1"/>
<path d="M443.09999999999997,988.8 A4.3,4.3 0 0 1 451.7,988.8 Z" fill="#231f20"/>
<path d="M443.09999999999997,988.8 A4.3,4.3 0 0 0 451.7,988.8 Z" fill="#ffffff"/>
<circle cx="447.4" cy="988.8" r="4.3" fill="none" stroke="#231f20" stroke-width="1.1"/>
<text transform="translate(-0.12 16.60) scale(1.04 1.04)" font-family="&quot;Liberation Sans&quot;, sans-serif" font-size="23.0" font-weight="bold" fill="#231f20" xml:space="preserve">A</text>
<text transform="translate(135.65 13.10)" font-family="&quot;Liberation Sans&quot;, sans-serif" font-size="14.7" font-weight="bold" fill="#231f20" xml:space="preserve">Tert 0 mg/kg</text>
<text transform="translate(510.95 12.90)" font-family="&quot;Liberation Sans&quot;, sans-serif" font-size="14.7" font-weight="bold" fill="#231f20" xml:space="preserve">Tert 5 mg/kg</text>
<text transform="translate(643.86 138.20)" font-family="&quot;Liberation Serif&quot;, serif" font-size="8.5" font-weight="bold" fill="#231f20" xml:space="preserve">500 ms</text>
<text transform="translate(0.49 156.90) scale(1.0 1.04)" font-family="&quot;Liberation Sans&quot;, sans-serif" font-size="23.0" font-weight="bold" fill="#231f20" xml:space="preserve">B</text>
<text transform="translate(160.84 150.40)" font-family="&quot;Liberation Sans&quot;, sans-serif" font-size="16.6" font-weight="bold" fill="#231f20" xml:space="preserve">p&lt;0.0001</text>
<text transform="translate(72.50 264.43) rotate(-90)" font-family="&quot;Liberation Sans&quot;, sans-serif" font-size="17.5" font-weight="bold" fill="#231f20" xml:space="preserve">PP rate (bpm)</text>
<text transform="translate(82.81 159.60)" font-family="&quot;Liberation Sans&quot;, sans-serif" font-size="15.7" font-weight="bold" fill="#231f20" xml:space="preserve">800</text>
<text transform="translate(82.81 187.10)" font-family="&quot;Liberation Sans&quot;, sans-serif" font-size="15.7" font-weight="bold" fill="#231f20" xml:space="preserve">600</text>
<text transform="translate(82.81 214.60)" font-family="&quot;Liberation Sans&quot;, sans-serif" font-size="15.7" font-weight="bold" fill="#231f20" xml:space="preserve">400</text>
<text transform="translate(82.81 242.00)" font-family="&quot;Liberation Sans&quot;, sans-serif" font-size="15.7" font-weight="bold" fill="#231f20" xml:space="preserve">200</text>
<text transform="translate(100.39 269.40)" font-family="&quot;Liberation Sans&quot;, sans-serif" font-size="15.7" font-weight="bold" fill="#231f20" xml:space="preserve">0</text>
<text transform="translate(159.78 286.40)" font-family="&quot;Liberation Sans&quot;, sans-serif" font-size="15.7" font-weight="bold" fill="#231f20" xml:space="preserve">0</text>
<text transform="translate(229.80 286.40)" font-family="&quot;Liberation Sans&quot;, sans-serif" font-size="15.7" font-weight="bold" fill="#231f20" xml:space="preserve">5</text>
<text transform="translate(150.12 311.60)" font-family="&quot;Liberation Sans&quot;, sans-serif" font-size="17.6" font-weight="bold" fill="#231f20" xml:space="preserve">Tert (mg/kg)</text>
<text transform="translate(384.88 156.50) scale(1.0 1.04)" font-family="&quot;Liberation Sans&quot;, sans-serif" font-size="23.0" font-weight="bold" fill="#231f20" xml:space="preserve">C</text>
<text transform="translate(509.30 151.80)" font-family="&quot;Liberation Sans&quot;, sans-serif" font-size="17.2" font-weight="bold" fill="#231f20" xml:space="preserve">p=0.0012</text>
<text transform="translate(428.00 242.21) rotate(-90)" font-family="&quot;Liberation Sans&quot;, sans-serif" font-size="18.7" font-weight="bold" fill="#231f20" xml:space="preserve">PR (ms)</text>
<text transform="translate(439.60 158.00)" font-family="&quot;Liberation Sans&quot;, sans-serif" font-size="15.7" font-weight="bold" fill="#231f20" xml:space="preserve">80</text>
<text transform="translate(439.60 185.60)" font-family="&quot;Liberation Sans&quot;, sans-serif" font-size="15.7" font-weight="bold" fill="#231f20" xml:space="preserve">60</text>
<text transform="translate(439.60 213.10)" font-family="&quot;Liberation Sans&quot;, sans-serif" font-size="15.7" font-weight="bold" fill="#231f20" xml:space="preserve">40</text>
<text transform="translate(439.60 240.70)" font-family="&quot;Liberation Sans&quot;, sans-serif" font-size="15.7" font-weight="bold" fill="#231f20" xml:space="preserve">20</text>
<text transform="translate(448.39 268.20)" font-family="&quot;Liberation Sans&quot;, sans-serif" font-size="15.7" font-weight="bold" fill="#231f20" xml:space="preserve">0</text>
<text transform="translate(508.18 285.90)" font-family="&quot;Liberation Sans&quot;, sans-serif" font-size="15.7" font-weight="bold" fill="#231f20" xml:space="preserve">0</text>
<text transform="translate(578.90 285.90)" font-family="&quot;Liberation Sans&quot;, sans-serif" font-size="15.7" font-weight="bold" fill="#231f20" xml:space="preserve">5</text>
<text transform="translate(499.23 311.60)" font-family="&quot;Liberation Sans&quot;, sans-serif" font-size="17.45" font-weight="bold" fill="#231f20" xml:space="preserve">Tert (mg/kg)</text>
<text transform="translate(-0.41 332.70) scale(1.0 1.04)" font-family="&quot;Liberation Sans&quot;, sans-serif" font-size="23.0" font-weight="bold" fill="#231f20" xml:space="preserve">D</text>
<text transform="translate(162.09 334.30)" font-family="&quot;Liberation Sans&quot;, sans-serif" font-size="17.3" font-weight="bold" fill="#231f20" xml:space="preserve">p=0.0059</text>
<text transform="translate(73.10 435.28) rotate(-90) scale(1.0 1.06)" font-family="&quot;Liberation Sans&quot;, sans-serif" font-size="19.2" font-weight="bold" fill="#231f20" xml:space="preserve">AVBII/60s</text>
<text transform="translate(84.21 343.40)" font-family="&quot;Liberation Sans&quot;, sans-serif" font-size="15.7" font-weight="bold" fill="#231f20" xml:space="preserve">100</text>
<text transform="translate(93.00 365.40)" font-family="&quot;Liberation Sans&quot;, sans-serif" font-size="15.7" font-weight="bold" fill="#231f20" xml:space="preserve">80</text>
<text transform="translate(93.00 387.40)" font-family="&quot;Liberation Sans&quot;, sans-serif" font-size="15.7" font-weight="bold" fill="#231f20" xml:space="preserve">60</text>
<text transform="translate(93.00 409.30)" font-family="&quot;Liberation Sans&quot;, sans-serif" font-size="15.7" font-weight="bold" fill="#231f20" xml:space="preserve">40</text>
<text transform="translate(93.00 431.30)" font-family="&quot;Liberation Sans&quot;, sans-serif" font-size="15.7" font-weight="bold" fill="#231f20" xml:space="preserve">20</text>
<text transform="translate(101.79 453.20)" font-family="&quot;Liberation Sans&quot;, sans-serif" font-size="15.7" font-weight="bold" fill="#231f20" xml:space="preserve">0</text>
<text transform="translate(161.18 471.00)" font-family="&quot;Liberation Sans&quot;, sans-serif" font-size="15.7" font-weight="bold" fill="#231f20" xml:space="preserve">0</text>
<text transform="translate(231.80 471.00)" font-family="&quot;Liberation Sans&quot;, sans-serif" font-size="15.7" font-weight="bold" fill="#231f20" xml:space="preserve">5</text>
<text transform="translate(151.02 496.70)" font-family="&quot;Liberation Sans&quot;, sans-serif" font-size="17.7" font-weight="bold" fill="#231f20" xml:space="preserve">Tert (mg/kg)</text>
<text transform="translate(385.39 332.80) scale(1.0 1.04)" font-family="&quot;Liberation Sans&quot;, sans-serif" font-size="23.0" font-weight="bold" fill="#231f20" xml:space="preserve">E</text>
<text transform="translate(509.59 334.50)" font-family="&quot;Liberation Sans&quot;, sans-serif" font-size="17.3" font-weight="bold" fill="#231f20" xml:space="preserve">p=0.0078</text>
<text transform="translate(438.30 466.67) rotate(-90) scale(1.0 1.04)" font-family="&quot;Liberation Sans&quot;, sans-serif" font-size="19.05" font-weight="bold" fill="#231f20" xml:space="preserve">SAN Pauses/60s</text>
<text transform="translate(449.98 342.90)" font-family="&quot;Liberation Sans&quot;, sans-serif" font-size="15.7" font-weight="bold" fill="#231f20" xml:space="preserve">5</text>
<text transform="translate(449.67 365.00)" font-family="&quot;Liberation Sans&quot;, sans-serif" font-size="15.7" font-weight="bold" fill="#231f20" xml:space="preserve">4</text>
<text transform="translate(450.14 387.00)" font-family="&quot;Liberation Sans&quot;, sans-serif" font-size="15.7" font-weight="bold" fill="#231f20" xml:space="preserve">3</text>
<text transform="translate(450.14 409.10)" font-family="&quot;Liberation Sans&quot;, sans-serif" font-size="15.7" font-weight="bold" fill="#231f20" xml:space="preserve">2</text>
<text transform="translate(449.98 431.10)" font-family="&quot;Liberation Sans&quot;, sans-serif" font-size="15.7" font-weight="bold" fill="#231f20" xml:space="preserve">1</text>
<text transform="translate(450.29 453.20)" font-family="&quot;Liberation Sans&quot;, sans-serif" font-size="15.7" font-weight="bold" fill="#231f20" xml:space="preserve">0</text>
<text transform="translate(508.68 470.90)" font-family="&quot;Liberation Sans&quot;, sans-serif" font-size="15.7" font-weight="bold" fill="#231f20" xml:space="preserve">0</text>
<text transform="translate(579.10 470.90)" font-family="&quot;Liberation Sans&quot;, sans-serif" font-size="15.7" font-weight="bold" fill="#231f20" xml:space="preserve">5</text>
<text transform="translate(499.23 495.90)" font-family="&quot;Liberation Sans&quot;, sans-serif" font-size="17.45" font-weight="bold" fill="#231f20" xml:space="preserve">Tert (mg/kg)</text>
<text transform="translate(0.49 513.80) scale(1.0 1.04)" font-family="&quot;Liberation Sans&quot;, sans-serif" font-size="23.0" font-weight="bold" fill="#231f20" xml:space="preserve">F</text>
<text transform="translate(155.25 539.50)" font-family="&quot;Liberation Sans&quot;, sans-serif" font-size="14.7" font-weight="bold" fill="#231f20" xml:space="preserve">Tert 0 mg/kg</text>
<text transform="translate(54.40 661.11) rotate(-90)" font-family="&quot;Liberation Sans&quot;, sans-serif" font-size="17.3" font-weight="bold" fill="#231f20" xml:space="preserve">RR (ms)</text>
<text transform="translate(65.31 528.80)" font-family="&quot;Liberation Sans&quot;, sans-serif" font-size="15.7" font-weight="bold" fill="#231f20" xml:space="preserve">200</text>
<text transform="translate(65.31 598.60)" font-family="&quot;Liberation Sans&quot;, sans-serif" font-size="15.7" font-weight="bold" fill="#231f20" xml:space="preserve">150</text>
<text transform="translate(65.31 668.70)" font-family="&quot;Liberation Sans&quot;, sans-serif" font-size="15.7" font-weight="bold" fill="#231f20" xml:space="preserve">100</text>
<text transform="translate(74.10 738.60)" font-family="&quot;Liberation Sans&quot;, sans-serif" font-size="15.7" font-weight="bold" fill="#231f20" xml:space="preserve">50</text>
<text transform="translate(91.44 756.60)" font-family="&quot;Liberation Sans&quot;, sans-serif" font-size="15.7" font-weight="bold" fill="#231f20" xml:space="preserve">40</text>
<text transform="translate(160.56 756.60)" font-family="&quot;Liberation Sans&quot;, sans-serif" font-size="15.7" font-weight="bold" fill="#231f20" xml:space="preserve">50</text>
<text transform="translate(229.69 756.60)" font-family="&quot;Liberation Sans&quot;, sans-serif" font-size="15.7" font-weight="bold" fill="#231f20" xml:space="preserve">60</text>
<text transform="translate(298.89 756.60)" font-family="&quot;Liberation Sans&quot;, sans-serif" font-size="15.7" font-weight="bold" fill="#231f20" xml:space="preserve">70</text>
<text transform="translate(170.79 782.90)" font-family="&quot;Liberation Sans&quot;, sans-serif" font-size="17.35" font-weight="bold" fill="#231f20" xml:space="preserve">PR (ms)</text>
<text transform="translate(108.27 708.00)" font-family="&quot;Liberation Sans&quot;, sans-serif" font-size="14.65" font-weight="bold" fill="#231f20" xml:space="preserve">r  Spearman = -0.07</text>
<text transform="translate(108.27 724.30)" font-family="&quot;Liberation Sans&quot;, sans-serif" font-size="14.65" font-weight="bold" fill="#231f20" xml:space="preserve">p = 0.84</text>
<text transform="translate(386.28 513.70) scale(1.0 1.04)" font-family="&quot;Liberation Sans&quot;, sans-serif" font-size="23.0" font-weight="bold" fill="#231f20" xml:space="preserve">G</text>
<text transform="translate(505.95 539.50)" font-family="&quot;Liberation Sans&quot;, sans-serif" font-size="14.7" font-weight="bold" fill="#231f20" xml:space="preserve">Tert 5 mg/kg</text>
<text transform="translate(399.40 659.29) rotate(-90)" font-family="&quot;Liberation Sans&quot;, sans-serif" font-size="17.0" font-weight="bold" fill="#231f20" xml:space="preserve">RR (ms)</text>
<text transform="translate(410.81 527.80)" font-family="&quot;Liberation Sans&quot;, sans-serif" font-size="15.7" font-weight="bold" fill="#231f20" xml:space="preserve">200</text>
<text transform="translate(410.81 597.70)" font-family="&quot;Liberation Sans&quot;, sans-serif" font-size="15.7" font-weight="bold" fill="#231f20" xml:space="preserve">150</text>
<text transform="translate(410.81 667.50)" font-family="&quot;Liberation Sans&quot;, sans-serif" font-size="15.7" font-weight="bold" fill="#231f20" xml:space="preserve">100</text>
<text transform="translate(419.60 737.20)" font-family="&quot;Liberation Sans&quot;, sans-serif" font-size="15.7" font-weight="bold" fill="#231f20" xml:space="preserve">50</text>
<text transform="translate(437.24 755.60)" font-family="&quot;Liberation Sans&quot;, sans-serif" font-size="15.7" font-weight="bold" fill="#231f20" xml:space="preserve">40</text>
<text transform="translate(506.26 755.60)" font-family="&quot;Liberation Sans&quot;, sans-serif" font-size="15.7" font-weight="bold" fill="#231f20" xml:space="preserve">50</text>
<text transform="translate(575.19 755.60)" font-family="&quot;Liberation Sans&quot;, sans-serif" font-size="15.7" font-weight="bold" fill="#231f20" xml:space="preserve">60</text>
<text transform="translate(643.89 755.60)" font-family="&quot;Liberation Sans&quot;, sans-serif" font-size="15.7" font-weight="bold" fill="#231f20" xml:space="preserve">70</text>
<text transform="translate(516.19 781.90)" font-family="&quot;Liberation Sans&quot;, sans-serif" font-size="17.25" font-weight="bold" fill="#231f20" xml:space="preserve">PR (ms)</text>
<text transform="translate(453.87 705.80)" font-family="&quot;Liberation Sans&quot;, sans-serif" font-size="14.65" font-weight="bold" fill="#231f20" xml:space="preserve">r  Spearman = 0.75</text>
<text transform="translate(453.87 722.50)" font-family="&quot;Liberation Sans&quot;, sans-serif" font-size="14.65" font-weight="bold" fill="#231f20" xml:space="preserve">p = 0.01</text>
<text transform="translate(-0.41 817.20) scale(1.0 1.04)" font-family="&quot;Liberation Sans&quot;, sans-serif" font-size="23.0" font-weight="bold" fill="#231f20" xml:space="preserve">H</text>
<text transform="translate(155.09 817.40)" font-family="&quot;Liberation Sans&quot;, sans-serif" font-size="17.35" font-weight="bold" fill="#231f20" xml:space="preserve">p=0.0049</text>
<text transform="translate(64.40 945.91) rotate(-90) scale(1.0 1.06)" font-family="&quot;Liberation Sans&quot;, sans-serif" font-size="16.94" font-weight="bold" fill="#231f20" xml:space="preserve">Spearman Coeff</text>
<text transform="translate(79.71 832.70)" font-family="&quot;Liberation Sans&quot;, sans-serif" font-size="15.7" font-weight="bold" fill="#231f20" xml:space="preserve">1.0</text>
<text transform="translate(79.55 860.10)" font-family="&quot;Liberation Sans&quot;, sans-serif" font-size="15.7" font-weight="bold" fill="#231f20" xml:space="preserve">0.5</text>
<text transform="translate(79.71 887.40)" font-family="&quot;Liberation Sans&quot;, sans-serif" font-size="15.7" font-weight="bold" fill="#231f20" xml:space="preserve">0.0</text>
<text transform="translate(74.21 914.80)" font-family="&quot;Liberation Sans&quot;, sans-serif" font-size="15.7" font-weight="bold" fill="#231f20" xml:space="preserve">-0.5</text>
<text transform="translate(74.52 942.20)" font-family="&quot;Liberation Sans&quot;, sans-serif" font-size="15.7" font-weight="bold" fill="#231f20" xml:space="preserve">-1.0</text>
<text transform="translate(152.58 959.50)" font-family="&quot;Liberation Sans&quot;, sans-serif" font-size="15.7" font-weight="bold" fill="#231f20" xml:space="preserve">0</text>
<text transform="translate(223.10 959.50)" font-family="&quot;Liberation Sans&quot;, sans-serif" font-size="15.7" font-weight="bold" fill="#231f20" xml:space="preserve">5</text>
<text transform="translate(143.63 983.60)" font-family="&quot;Liberation Sans&quot;, sans-serif" font-size="17.4" font-weight="bold" fill="#231f20" xml:space="preserve">Tert (mg/kg)</text>
<text transform="translate(384.49 817.00) scale(1.0 1.04)" font-family="&quot;Liberation Sans&quot;, sans-serif" font-size="23.0" font-weight="bold" fill="#231f20" xml:space="preserve">I</text>
<text transform="translate(416.00 929.53) rotate(-90)" font-family="&quot;Liberation Sans&quot;, sans-serif" font-size="17.55" font-weight="bold" fill="#231f20" xml:space="preserve">Ang. coeff.</text>
<text transform="translate(430.20 835.20)" font-family="&quot;Liberation Sans&quot;, sans-serif" font-size="15.7" font-weight="bold" fill="#231f20" xml:space="preserve">20</text>
<text transform="translate(430.20 872.00)" font-family="&quot;Liberation Sans&quot;, sans-serif" font-size="15.7" font-weight="bold" fill="#231f20" xml:space="preserve">10</text>
<text transform="translate(438.99 908.80)" font-family="&quot;Liberation Sans&quot;, sans-serif" font-size="15.7" font-weight="bold" fill="#231f20" xml:space="preserve">0</text>
<text transform="translate(425.02 945.70)" font-family="&quot;Liberation Sans&quot;, sans-serif" font-size="15.7" font-weight="bold" fill="#231f20" xml:space="preserve">-10</text>
<text transform="translate(495.98 819.90)" font-family="&quot;Liberation Sans&quot;, sans-serif" font-size="17.47" font-weight="bold" fill="#231f20" xml:space="preserve">p=0.0019</text>
<text transform="translate(471.17 851.40)" font-family="&quot;Liberation Sans&quot;, sans-serif" font-size="17.64" font-weight="bold" fill="#231f20" xml:space="preserve">p=0.0186</text>
<text transform="translate(453.45 971.40)" font-family="&quot;Liberation Sans&quot;, sans-serif" font-size="14.6" font-weight="bold" fill="#231f20" xml:space="preserve">Tert 0 mg/kg</text>
<text transform="translate(568.65 971.40)" font-family="&quot;Liberation Sans&quot;, sans-serif" font-size="14.6" font-weight="bold" fill="#231f20" xml:space="preserve">Tert 5 mg/kg</text>
<text transform="translate(457.45 993.50)" font-family="&quot;Liberation Sans&quot;, sans-serif" font-size="14.6" font-weight="bold" fill="#231f20" xml:space="preserve">Tert 5 mg/kg (in WT)</text>
</svg>
</body></html>
